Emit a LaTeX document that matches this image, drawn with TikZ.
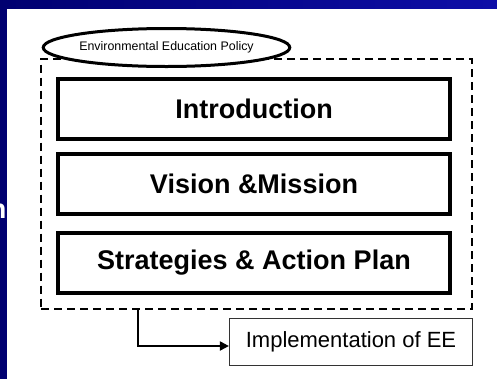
\documentclass[tikz,border=0pt]{standalone}
\usepackage{fontspec}
\setmainfont{Liberation Sans}
\usetikzlibrary{arrows.meta,shapes.geometric}

\definecolor{slideblue}{RGB}{8,8,140}
\definecolor{slidebluedark}{RGB}{0,0,112}
\definecolor{slidebluelight}{RGB}{14,14,168}

\tikzset{
  sectionbox/.style={draw=black, line width=4pt, fill=white, inner sep=0pt,
    minimum width=392pt, minimum height=60pt,
    font=\fontsize{27}{32}\selectfont\bfseries},
  policyframe/.style={draw=black, line width=2pt, dash pattern=on 8pt off 5pt,
    inner sep=0pt, minimum width=431pt, minimum height=250pt},
  titleoval/.style={ellipse, draw=black, line width=3pt, fill=white, inner sep=0pt,
    minimum width=226pt, minimum height=38pt,
    font=\fontsize{12.4}{15}\selectfont},
  outcomebox/.style={draw=black!80, line width=1.2pt, fill=white, inner sep=0pt,
    minimum width=243pt, minimum height=47pt,
    font=\fontsize{22}{26}\selectfont},
  flowline/.style={draw=black, line width=2pt,
    -{Triangle[length=9pt,width=9pt]}}
}

\begin{document}
\begin{tikzpicture}[x=1pt, y=-1pt]
  \useasboundingbox (0,0) rectangle (497,378);
  \clip (0,0) rectangle (497,378);

  % slide background and white content panel
  \shade[left color=slidebluedark, right color=slidebluelight] (-2,-2) rectangle (500,381);
  \fill[white] (7,9) rectangle (502,384);

  % end of a slide caption running off the left edge
  \node[anchor=base east, inner sep=0pt, text=white,
        font=\fontsize{27}{32}\selectfont\bfseries] (caption) at (6.5,218) {n};

  % dashed frame holding the policy sections
  \node[policyframe] (frame) at (256.5,183.5) {};

  % policy sections
  \node[sectionbox] (intro)    at (254,108.5) {Introduction};
  \node[sectionbox] (vision)   at (254,183.5) {Vision \&Mission};
  \node[sectionbox] (strategy) at (254,262.5) {Strategies \& Action Plan};

  % title oval over the frame's top edge
  \node[titleoval] (policy) at (166.5,47.5) {Environmental Education Policy};

  % outcome box and connector
  \node[outcomebox] (impl) at (351,342) {Implementation of EE};
  \coordinate (elbow) at (138,346);
  \draw[flowline] (frame.south -| elbow) -- (elbow) -- (elbow -| impl.west);
\end{tikzpicture}
\end{document}
